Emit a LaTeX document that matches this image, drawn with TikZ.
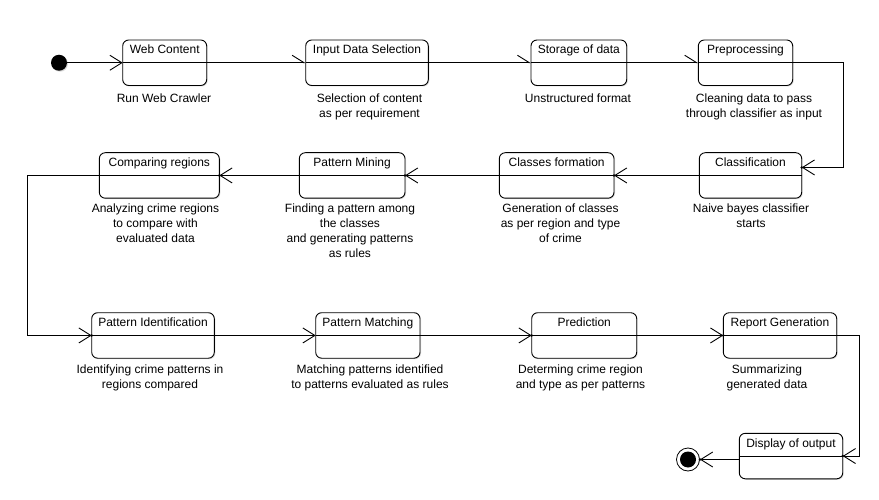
\documentclass[tikz,border=0pt]{standalone}
\usepackage{fontspec}
\setmainfont{Liberation Sans}
\usetikzlibrary{arrows.meta,calc,shadows}
\newcommand\mkstate[5]{%
  \node[stbox, minimum width={#3-#2}] (#1) at (#2,-#4) {};
  \draw[conn] (#1.west) -- (#1.east);
  \node[ttl] (#1t) at ($(#1.north)+(0,-14)$) {#5};
}
\begin{document}
\begin{tikzpicture}[x=1pt,y=1pt,
  every node/.style={font=\fontsize{12}{15}\selectfont},
  stbox/.style={draw, rounded corners=6pt, line width=0.9pt, fill=white, outer sep=0pt, inner sep=0pt,
    minimum height=45.5pt, anchor=north west,
    drop shadow={shadow xshift=1pt,shadow yshift=-1pt,fill=black!30}},
  ttl/.style={anchor=base, inner sep=0pt},
  lbl/.style={anchor=north, align=center, inner sep=0pt},
  conn/.style={line width=0.9pt},
  flow/.style={line width=0.9pt, -{Straight Barb[length=12pt,width=15pt,line width=0.9pt]}},
  hflow/.style={line width=0.9pt, -{Straight Barb[harpoon,length=12pt,width=15pt,line width=0.9pt]}},
  tipdot/.style={fill=black}]
\useasboundingbox (0,0) rectangle (879,-500);

% states
\mkstate{web}{122.7}{206.7}{40}{Web Content}
\mkstate{ids}{305.7}{428.3}{40}{Input Data Selection}
\mkstate{sto}{531}{626.7}{40}{Storage of data}
\mkstate{pre}{698.3}{792.7}{40}{Preprocessing}
\mkstate{cmp}{99.3}{219.3}{152.7}{Comparing regions}
\mkstate{pmi}{299.3}{405}{152.7}{Pattern Mining}
\mkstate{clf}{499.3}{614}{152.7}{Classes formation}
\mkstate{cls}{699.3}{801.7}{152.7}{Classification}
\mkstate{pid}{91.7}{214.3}{312.7}{Pattern Identification}
\mkstate{pma}{315.7}{420}{312.7}{Pattern Matching}
\mkstate{prd}{531.7}{636.7}{312.7}{Prediction}
\mkstate{rep}{723.3}{836.7}{312.7}{Report Generation}
\mkstate{dsp}{739.3}{842.7}{433.3}{Display of output}

% initial and final states
\node[circle, fill=black, minimum size=16pt, inner sep=0pt,
  drop shadow={shadow xshift=1pt,shadow yshift=-1pt,fill=black!30}] (start) at (59,-62.75) {};
\node[circle, draw, fill=white, line width=0.8pt, minimum size=23pt, inner sep=0pt] (endc) at (688,-459.5) {};
\fill (endc.center) circle (8pt);

% labels
\node[lbl] (webl) at (164,-94) {Run Web Crawler};
\node[lbl] (idsl) at (369.5,-94) {Selection of content\\as per requirement};
\node[lbl] (stol) at (578,-94) {Unstructured format};
\node[lbl] (prel) at (754,-94) {Cleaning data to pass\\through classifier as input};
\node[lbl] (cmpl) at (155.5,-204) {Analyzing crime regions\\to compare with\\evaluated data};
\node[lbl] (pmil) at (350,-204) {Finding a pattern among\\the classes\\and generating patterns\\as rules};
\node[lbl] (clfl) at (560.5,-204) {Generation of classes\\as per region and type\\of crime};
\node[lbl] (clsl) at (751,-204) {Naive bayes classifier\\starts};
\node[lbl] (pidl) at (150,-365) {Identifying crime patterns in\\regions compared};
\node[lbl] (pmal) at (370,-365) {Matching patterns identified\\to patterns evaluated as rules};
\node[lbl] (prdl) at (580.5,-365) {Determing crime region\\and type as per patterns};
\node[lbl] (repl) at (767,-365) {Summarizing\\generated data};

% connectors
\coordinate (clsin) at ($(cls.east)+(0,8)$);
\coordinate (dspout) at (dsp.west |- endc);
\draw[flow] (start) -- (web.west);
\draw[hflow] (web.east) -- (ids.west);
\draw[hflow] (ids.east) -- (sto.west);
\draw[hflow] (sto.east) -- (pre.west);
\draw[flow] (pre.east) -| ($(clsin)+(41.6,0)$) -- (clsin);
\draw[flow] (cls.west) -- (clf.east);
\draw[flow] (clf.west) -- (pmi.east);
\draw[flow] (pmi.west) -- (cmp.east);
\draw[flow] (cmp.west) -- ++(-72,0) |- (pid.west);
\draw[flow] (pid.east) -- (pma.west);
\draw[flow] (pma.east) -- (prd.west);
\draw[flow] (prd.east) -- (rep.west);
\draw[flow] (rep.east) -- ++(22.6,0) |- (dsp.east);
\draw[flow] (dspout) -- (endc);

% small dots at arrow ends
\foreach \p in {cmp.east, pmi.east, clf.east, clsin, pid.west, prd.west, rep.west, dsp.east, endc.east}
  \fill[tipdot] (\p) circle (1.4pt);
\end{tikzpicture}
\end{document}
